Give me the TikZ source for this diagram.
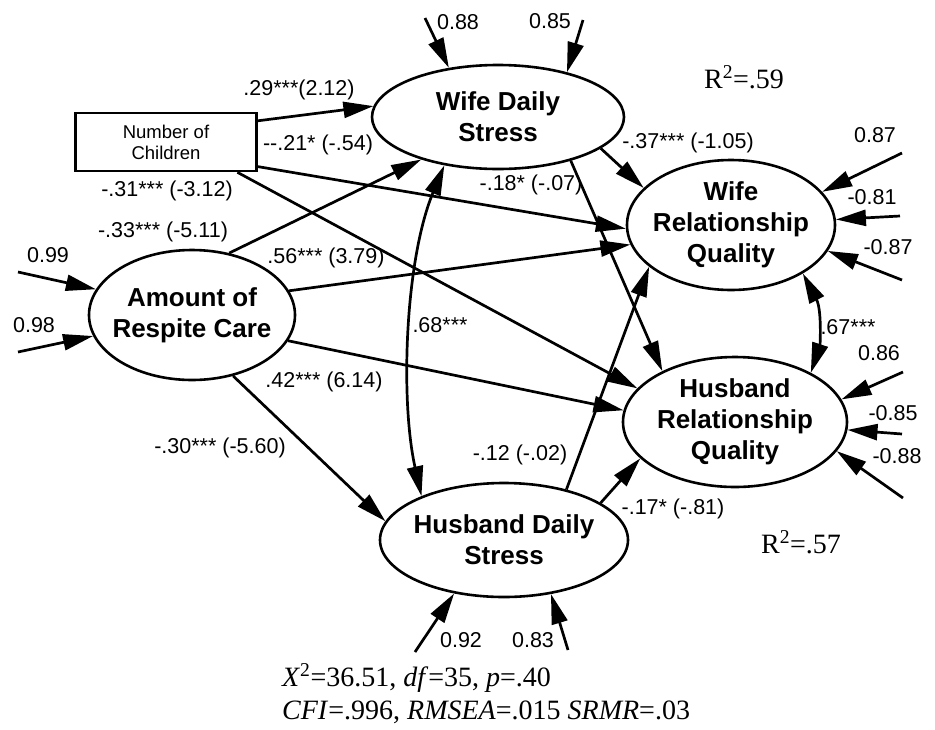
\documentclass[tikz,border=0pt]{standalone}
\usepackage{fontspec}
\setmainfont{Liberation Sans}
\newfontfamily\timesfont{Liberation Serif}
\usetikzlibrary{arrows.meta,shapes.geometric}

\begin{document}
\begin{tikzpicture}[x=1pt,y=-1pt,
  lat/.style={draw, ellipse, line width=2.6pt, inner sep=0pt},
  lattext/.style={align=center, inner sep=0pt, font=\bfseries\fontsize{26}{31}\selectfont},
  eff/.style={line width=2.7pt, -{Triangle[length=30pt,width=16pt]}},
  cov/.style={line width=2.7pt, {Triangle[length=30pt,width=16pt]}-{Triangle[length=30pt,width=16pt]}},
  lbl/.style={inner sep=0pt, font=\fontsize{21.5}{24}\selectfont},
  stat/.style={inner sep=0pt, font=\timesfont\fontsize{28}{31}\selectfont}]

\useasboundingbox (0,0) rectangle (935,729);

% observed and latent variables
\node[draw, line width=2.6pt, minimum width=181pt, minimum height=58pt, inner sep=0pt,
      align=center, font=\fontsize{18.5}{21}\selectfont] (nc) at (166,142) {Number of\\Children};
\node[lat, minimum width=206pt, minimum height=130pt] (arc) at (192,315) {};
\node[lattext] at (arc) {Amount of\\Respite Care};
\node[lat, minimum width=252pt, minimum height=104pt] (wds) at (498,117) {};
\node[lattext] at (wds) {Wife Daily\\Stress};
\node[lat, minimum width=248pt, minimum height=114pt] (hds) at (504,540) {};
\node[lattext] at (hds) {Husband Daily\\Stress};
\node[lat, minimum width=208pt, minimum height=130pt] (wrq) at (731,225) {};
\node[lattext] at (wrq) {Wife\\Relationship\\Quality};
\node[lat, minimum width=224pt, minimum height=130pt] (hrq) at (735,422) {};
\node[lattext] at (hrq) {Husband\\Relationship\\Quality};

% structural paths
\draw[eff] (nc.13) -- (wds.175.9);
\draw[eff] (nc.345.8) -- (wrq.182.8);
\draw[eff] (nc.337.8) -- (hrq.161.2);
\draw[eff] (arc.59.7) -- (wds.209.4);
\draw[eff] (arc.14.9) -- (wrq.191.3);
\draw[eff] (arc.345.7) -- (hrq.174.9);
\draw[eff] (arc.304.7) -- (hds.171.9);
\draw[eff] (wds.343.4) -- (wrq.157.9);
\draw[eff] (wds.329.3) -- (hrq.145.96);
\draw[eff] (hds.39) -- (wrq.207.9);
\draw[eff] (hds.21) -- (hrq.201.8);

% covariances
\draw[cov] (wds.222) .. controls (405,260) and (400,400) .. (hds.152.3);
\draw[cov] (wrq.326.6) .. controls (822,310) and (820,345) .. (hrq.33.9);

% residual terms
\coordinate (r88) at (425,18);
\coordinate (r85) at (583,20);
\coordinate (r87a) at (902,153);
\coordinate (r81) at (900,216);
\coordinate (r87b) at (902,280);
\coordinate (r86) at (903,372);
\coordinate (r85b) at (902,434);
\coordinate (r88b) at (903,498);
\coordinate (r92) at (415,652);
\coordinate (r83) at (568,650);
\coordinate (r99) at (18,272);
\coordinate (r98) at (18,352);
\draw[eff] (r88) -- (wds.135.6);
\draw[eff] (r85) -- (wds.33.5);
\draw[eff] (r87a) -- (wrq.20.3);
\draw[eff] (r81) -- (wrq.3.3);
\draw[eff] (r87b) -- (wrq.345.4);
\draw[eff] (r86) -- (hrq.12.9);
\draw[eff] (r85b) -- (hrq.356.9);
\draw[eff] (r88b) -- (hrq.344.4);
\draw[eff] (r92) -- (hds.227.2);
\draw[eff] (r83) -- (hds.311.8);
\draw[eff] (r99) -- (arc.165.3);
\draw[eff] (r98) -- (arc.192.2);

% path coefficients
\node[lbl] (l1) at (299,90) {.29***(2.12)};
\node[lbl] (l2) at (318,145) {-{}-.21* (-.54)};
\node[lbl] (l3) at (167,191) {-.31*** (-3.12)};
\node[lbl] (l4) at (163,232) {-.33*** (-5.11)};
\node[lbl] (l5) at (326,258) {.56*** (3.79)};
\node[lbl] (l6) at (531,185) {-.18* (-.07)};
\node[lbl] (l7) at (688,143) {-.37*** (-1.05)};
\node[lbl] (l8) at (440,325) {.68***};
\node[lbl] (l9) at (324,382) {.42*** (6.14)};
\node[lbl] (l10) at (220,448) {-.30*** (-5.60)};
\node[lbl] (l11) at (520,455) {-.12 (-.02)};
\node[lbl] (l12) at (673,509) {-.17* (-.81)};
\node[lbl] (l13) at (848,327) {.67***};

% residual values
\node[lbl] (v1) at (458,22) {0.88};
\node[lbl] (v2) at (550,21) {0.85};
\node[lbl] (v3) at (875,135) {0.87};
\node[lbl] (v4) at (872,197) {-0.81};
\node[lbl] (v5) at (888,247) {-0.87};
\node[lbl] (v6) at (879,353) {0.86};
\node[lbl] (v7) at (893,413) {-0.85};
\node[lbl] (v8) at (897,456) {-0.88};
\node[lbl] (v9) at (461,640) {0.92};
\node[lbl] (v10) at (533,640) {0.83};
\node[lbl] (v11) at (48,255) {0.99};
\node[lbl] (v12) at (34,325) {0.98};

% explained variance and fit
\node[stat, anchor=base] (rsq1) at (744,88) {R\textsuperscript{2}=.59};
\node[stat, anchor=base] (rsq2) at (801,553) {R\textsuperscript{2}=.57};
\node[stat, anchor=base west] (fit1) at (282,686) {\textit{X}\textsuperscript{2}=36.51, \textit{df}=35, \textit{p}=.40};
\node[stat, anchor=base west] (fit2) at (282,719) {\textit{CFI}=.996, \textit{RMSEA}=.015 \textit{SRMR}=.03};
\end{tikzpicture}
\end{document}
